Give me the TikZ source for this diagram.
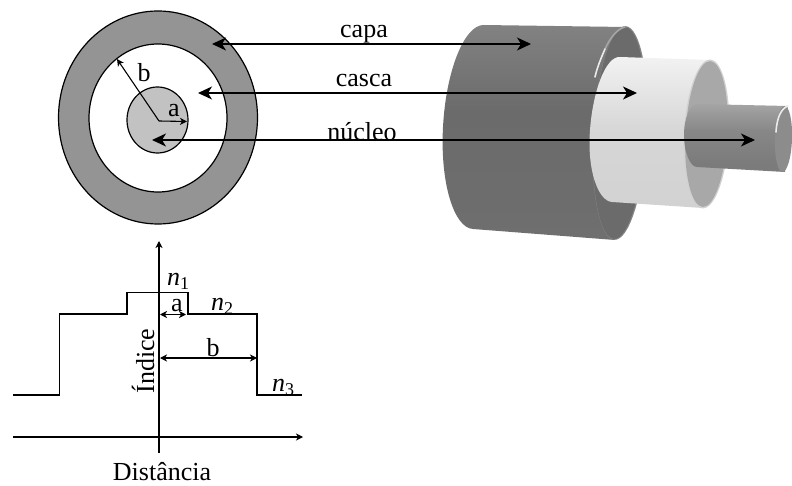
\documentclass[tikz,border=0pt]{standalone}
\usepackage{fontspec}
\setmainfont{Liberation Serif}
\usetikzlibrary{arrows.meta}
\pgfdeclareverticalshading{shadeDark}{100bp}{
 color(0bp)=(black!52); color(30bp)=(black!57); color(55bp)=(black!58); color(75bp)=(black!49); color(88bp)=(black!45); color(100bp)=(black!52)}
\pgfdeclareverticalshading{shadeWhite}{100bp}{
 color(0bp)=(black!8); color(20bp)=(black!18); color(50bp)=(black!16); color(75bp)=(black!5); color(85bp)=(black!2); color(100bp)=(black!12)}
\pgfdeclareverticalshading{shadeCore}{100bp}{
 color(0bp)=(black!46); color(30bp)=(black!52); color(55bp)=(black!47); color(78bp)=(black!34); color(100bp)=(black!44)}
\tikzset{
  ringline/.style={draw=black,line width=1.2pt},
  thinarrow/.style={line width=1.1pt,{Stealth[length=7pt,width=7pt,inset=2pt]}-{Stealth[length=7pt,width=7pt,inset=2pt]}},
  singlearrow/.style={line width=1.1pt,-{Stealth[length=7pt,width=7pt,inset=2pt]}},
  bigarrow/.style={line width=1.4pt,{Stealth[length=14pt,width=13pt,inset=4pt]}-{Stealth[length=14pt,width=13pt,inset=4pt]}},
  axisline/.style={line width=1.1pt,-{Stealth[length=7pt,width=7pt,inset=2pt]}},
  profile/.style={line width=1.4pt,line join=miter},
  lbl/.style={inner sep=0pt,font=\fontsize{26}{26}\selectfont},
  rim/.style={line width=1.6pt,line cap=round},
}
\newcommand{\subidx}[1]{\itshape n\raisebox{-4pt}{\fontsize{18}{18}\selectfont\upshape #1}}
\begin{document}
\begin{tikzpicture}[x=1pt,y=-1pt]
\useasboundingbox (0,0) rectangle (792,486);
\clip (0,0) rectangle (792,486);
\fill[white] (0,0) rectangle (792,486);
% cross-section
\path[ringline,fill=black!42] (158,117.5) ellipse [x radius=99.5,y radius=106.5];
\path[ringline,fill=white] (158,118) ellipse [x radius=69,y radius=74];
\path[ringline,fill=black!24] (157.5,120) ellipse [x radius=30.5,y radius=33];
% cable: outer
\shade[shading=shadeDark] (483,25) -- (625,27) -- (615,240) -- (473,229)
  .. controls (454,228) and (440,183) .. (443,127) .. controls (446,71) and (464,26) .. (483,25) -- cycle;
\fill[black!48,shift={(620,133)},rotate=-3] (0,0) ellipse [x radius=27,y radius=107];
\fill[black!58,shift={(619.5,133)},rotate=-3] (0,0) ellipse [x radius=26,y radius=106];
\draw[black!35,rim] (625,27) .. controls (617,29) and (610,38) .. (605,49);
\draw[black!8,rim] (605,49) .. controls (601,58) and (597,68) .. (595,77);
% cable: jacket
\shade[shading=shadeWhite] (620,57) -- (710,60) -- (703,208) -- (612,202)
  .. controls (598,201) and (587,170) .. (590,130) .. controls (593,90) and (606,56) .. (620,57) -- cycle;
\fill[black!18,shift={(706.5,134)},rotate=-3] (0,0) ellipse [x radius=22.5,y radius=74.5];
\fill[black!34,shift={(706.5,134)},rotate=-3] (0,0) ellipse [x radius=21,y radius=73];
% cable: core
\shade[shading=shadeCore] (697,104) -- (788,106) -- (785,172) -- (697,167)
  .. controls (690,167) and (684,152) .. (684,135) .. controls (684,118) and (690,104) .. (697,104) -- cycle;
\fill[black!45,shift={(783.5,139)},rotate=-2] (0,0) ellipse [x radius=8.5,y radius=33];
\draw[black!8,rim] (788,106) .. controls (782,108) and (777,116) .. (776,132);
% named anchors
\coordinate (capaL) at (212,44);
\coordinate (capaR) at (531,44);
\coordinate (cascaL) at (198,93);
\coordinate (cascaR) at (637,93);
\coordinate (nucL) at (152,140);
\coordinate (nucR) at (755,140);
\coordinate (ctr) at (159,121);
\coordinate (ra) at (187,121.5);
\coordinate (rb) at (117,59);
\draw[bigarrow] (capaL) -- (capaR);
\draw[bigarrow] (cascaL) -- (cascaR);
\draw[bigarrow] (nucL) -- (nucR);
\draw[singlearrow] (ctr) -- (ra);
\draw[singlearrow] (ctr) -- (rb);
\node[lbl] (tcapa) at (364,34) {capa};
\node[lbl] (tcasca) at (364,81) {casca};
\node[lbl] (tnuc) at (362,132) {núcleo};
\node[lbl] (tb) at (144,73) {b};
\node[lbl] (ta) at (174,111) {a};
% index profile
\coordinate (yB) at (159,453);
\coordinate (yT) at (159,241);
\coordinate (xL) at (13,437);
\coordinate (xR) at (303,437);
\draw[axisline] (yB) -- (yT);
\draw[axisline] (xL) -- (xR);
\draw[profile] (13,395) -- (59.5,395) -- (59.5,314) -- (127,314) -- (127,292.5) -- (188,292.5) -- (188,314) -- (257,314) -- (257,395) -- (302,395);
\coordinate (aL) at (160,314.5);
\coordinate (aR) at (186,314.5);
\coordinate (bL) at (160,358);
\coordinate (bR) at (257,358);
\draw[thinarrow] (aL) -- (aR);
\draw[thinarrow] (bL) -- (bR);
\node[lbl] (n1) at (178,281) {\subidx{1}};
\node[lbl] (pa) at (177,306) {a};
\node[lbl] (n2) at (222,306) {\subidx{2}};
\node[lbl] (pb) at (213,348) {b};
\node[lbl] (n3) at (283,387) {\subidx{3}};
\node[lbl,rotate=90] (ind) at (143,361) {Índice};
\node[lbl] (dist) at (162,472) {Distância};
\end{tikzpicture}
\end{document}
